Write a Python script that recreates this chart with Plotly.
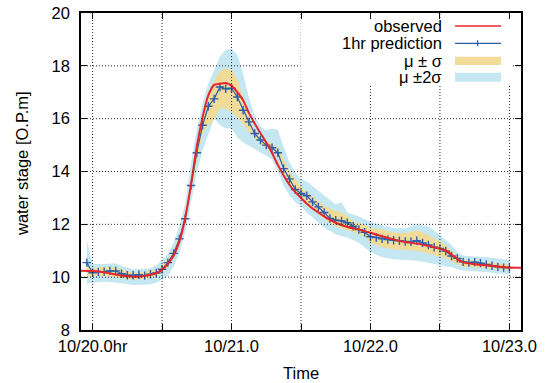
import plotly.graph_objects as go

# ---------------- data (hours from 10/20 0:00) ----------------
pred_hours = list(range(-1, 73))
pred_stage = [10.55, 10.17, 10.20, 10.21, 10.24, 10.24, 10.13, 10.07, 10.07, 10.09,
              10.06, 10.11, 10.16, 10.30, 10.55, 10.90, 11.45, 12.21, 13.47, 14.71,
              15.75, 16.47, 16.75, 17.20, 17.13, 17.15, 16.82, 16.32, 15.88, 15.44,
              15.19, 15.00, 14.90, 14.71, 14.11, 13.72, 13.32, 13.17, 13.08, 12.85,
              12.66, 12.45, 12.22, 12.16, 12.13, 12.06, 11.93, 11.80, 11.70, 11.53,
              11.50, 11.45, 11.42, 11.40, 11.38, 11.35, 11.34, 11.38, 11.30, 11.22,
              11.13, 11.09, 10.99, 10.80, 10.71, 10.58, 10.55, 10.57, 10.53, 10.48,
              10.43, 10.39, 10.36, 10.36]

obs_hours = [-2, 0, 2, 4, 6, 8, 10, 11, 12, 13, 14, 15, 16, 17, 18, 19, 20, 21, 22, 23,
             24, 25, 26, 27, 28, 29, 30, 31, 32, 33, 34, 35, 36, 37, 38, 39, 40, 42, 44,
             46, 48, 50, 52, 54, 56, 58, 60, 61, 62, 63, 64, 66, 68, 70, 72, 74]
obs_stage = [10.24, 10.23, 10.19, 10.10, 10.03, 10.02, 10.09, 10.15, 10.27, 10.50,
             10.82, 11.35, 12.25, 13.50, 14.95, 16.05, 16.89, 17.28, 17.32, 17.35,
             17.25, 17.00, 16.70, 16.22, 15.82, 15.45, 15.10, 14.70, 14.25, 13.85,
             13.50, 13.22, 13.00, 12.78, 12.60, 12.45, 12.30, 12.06, 11.90, 11.80,
             11.68, 11.55, 11.43, 11.33, 11.27, 11.18, 11.08, 11.00, 10.86, 10.68,
             10.56, 10.49, 10.45, 10.40, 10.37, 10.36]

s1_hours = [-1, 0, 2, 4, 5, 7, 9, 11, 12, 13, 14, 15, 16, 17, 18, 19, 20, 21, 22, 23,
            24, 25, 26, 27, 28, 29, 30, 31, 32, 33, 34, 35, 36, 37, 38, 40, 42, 43, 45,
            47, 48, 50, 52, 54, 56, 58, 60, 61, 62, 63, 64, 66, 68, 70, 72]
s1_upper = [10.45, 10.33, 10.39, 10.36, 10.30, 10.17, 10.20, 10.30, 10.45, 10.68,
            11.05, 11.60, 12.40, 13.65, 14.95, 16.10, 16.95, 17.45, 17.80, 17.90,
            17.85, 17.50, 16.80, 16.10, 15.55, 15.30, 15.12, 15.07, 14.90, 14.45,
            14.00, 13.70, 13.42, 13.20, 13.06, 12.70, 12.50, 12.47, 12.12, 11.97,
            11.85, 11.80, 11.68, 11.66, 11.78, 11.60, 11.34, 11.21, 11.00, 10.85,
            10.66, 10.61, 10.56, 10.52, 10.48]
s1_lower = [10.00, 10.05, 10.04, 10.00, 9.96, 9.91, 9.93, 10.05, 10.15, 10.38,
            10.72, 11.25, 12.02, 13.20, 14.40, 15.40, 15.75, 15.95, 16.40, 16.38,
            16.25, 16.05, 15.80, 15.50, 15.27, 15.05, 14.88, 14.81, 14.55, 14.00,
            13.60, 13.28, 13.00, 12.75, 12.56, 12.20, 11.92, 11.85, 11.72, 11.52,
            11.30, 11.13, 11.06, 11.03, 11.00, 10.90, 10.78, 10.73, 10.63, 10.50,
            10.40, 10.35, 10.33, 10.30, 10.27]

s2_hours = [-1, 0, 2, 4, 5, 7, 10, 11, 12, 13, 14, 15, 16, 17, 18, 19, 20, 21, 22, 23,
            24, 25, 26, 27, 28, 29, 30, 31, 32, 33, 34, 35, 36, 37, 38, 40, 42, 43, 44,
            46, 48, 50, 52, 54, 56, 58, 60, 61, 62, 63, 64, 66, 68, 70, 72]
s2_upper = [11.40, 10.50, 10.50, 10.53, 10.42, 10.30, 10.33, 10.45, 10.65, 10.88,
            11.30, 11.95, 12.80, 14.30, 15.60, 16.60, 17.33, 17.85, 18.35, 18.62,
            18.65, 18.42, 17.70, 16.80, 16.10, 15.70, 15.56, 15.63, 15.58, 14.93,
            14.35, 13.95, 13.72, 13.62, 13.45, 13.08, 12.75, 12.85, 12.45, 12.30,
            12.10, 11.97, 11.86, 11.84, 12.00, 11.92, 11.60, 11.40, 11.22, 10.95,
            10.82, 10.78, 10.76, 10.71, 10.65]
s2_lower = [9.75, 9.80, 9.83, 9.80, 9.77, 9.70, 9.72, 9.80, 9.90, 10.05,
            10.40, 10.90, 11.70, 12.80, 13.95, 14.80, 15.40, 16.00, 15.75, 15.63,
            15.65, 15.30, 15.10, 14.95, 14.85, 14.72, 14.60, 14.45, 14.00, 13.45,
            13.10, 12.85, 12.68, 12.45, 12.25, 11.88, 11.62, 11.55, 11.50, 11.30,
            10.95, 10.75, 10.68, 10.65, 10.62, 10.55, 10.46, 10.40, 10.38, 10.30,
            10.25, 10.22, 10.20, 10.14, 10.12]

x_tick_vals = [0, 12, 24, 36, 48, 60, 72]
x_tick_text = ["10/20.0hr", "", "10/21.0", "", "10/22.0", "", "10/23.0"]
y_tick_vals = [8, 10, 12, 14, 16, 18, 20]

legend_labels = ["observed", "1hr prediction", "\u03bc \u00b1 \u03c3", "\u03bc \u00b12\u03c3"]

# ---------------- styles ----------------
RED = "#e8252b"
BLUE = "#2c5ea8"
YELLOW = "#f0db98"
CYAN = "#c4e7f2"
FONT = "Liberation Sans, Arial, Helvetica, sans-serif"
FS = 16.5

FIG_W, FIG_H = 551, 383
PL, PR, PT, PB = 81.0, 521.0, 13.0, 330.0          # plot area in pixels
W, H = PR - PL, PB - PT

def px(xw):
    return (xw - PL) / W

def py(yw):
    return (PB - yw) / H

fig = go.Figure()

fig.add_trace(go.Scatter(
    x=s2_hours + s2_hours[::-1], y=s2_upper + s2_lower[::-1],
    fill="toself", fillcolor=CYAN, line=dict(width=0), mode="lines",
    hoverinfo="skip", showlegend=False))
fig.add_trace(go.Scatter(
    x=s1_hours + s1_hours[::-1], y=s1_upper + s1_lower[::-1],
    fill="toself", fillcolor=YELLOW, line=dict(width=0), mode="lines",
    hoverinfo="skip", showlegend=False))
fig.add_trace(go.Scatter(
    x=pred_hours, y=pred_stage, mode="lines+markers",
    line=dict(color=BLUE, width=1.2),
    marker=dict(symbol="cross-thin", size=6, line=dict(color=BLUE, width=1.4)),
    showlegend=False))
fig.add_trace(go.Scatter(
    x=obs_hours, y=obs_stage, mode="lines",
    line=dict(color=RED, width=2, shape="spline", smoothing=0.6),
    showlegend=False))

shapes = []
GRID = dict(color="#2a2a2a", width=1, dash="1px,2px")
for xv in x_tick_vals:
    shapes.append(dict(type="line", xref="x", yref="paper", x0=xv, x1=xv, y0=0, y1=1,
                       line=GRID, layer="above"))
for yv in y_tick_vals[1:-1]:
    shapes.append(dict(type="line", xref="paper", yref="y", x0=0, x1=1, y0=yv, y1=yv,
                       line=GRID, layer="above"))

# legend box (opaque, no border) and samples
shapes.append(dict(type="rect", xref="paper", yref="paper", x0=px(300.5), x1=px(511),
                   y0=py(85), y1=py(19), fillcolor="white", line=dict(width=0), layer="above"))
row_y = [26, 43.3, 61, 77.3]
sx0, sx1 = px(455), px(501)
shapes.append(dict(type="line", xref="paper", yref="paper", x0=sx0, x1=sx1,
                   y0=py(row_y[0]), y1=py(row_y[0]), line=dict(color=RED, width=1.5), layer="above"))
shapes.append(dict(type="line", xref="paper", yref="paper", x0=sx0, x1=sx1,
                   y0=py(row_y[1]), y1=py(row_y[1]), line=dict(color=BLUE, width=1.2), layer="above"))
shapes.append(dict(type="line", xref="paper", yref="paper", x0=px(477.7), x1=px(477.7),
                   y0=py(row_y[1] + 3), y1=py(row_y[1] - 3), line=dict(color=BLUE, width=1.2), layer="above"))
shapes.append(dict(type="rect", xref="paper", yref="paper", x0=sx0, x1=sx1,
                   y0=py(65), y1=py(56.7), fillcolor=YELLOW, line=dict(width=0), layer="above"))
shapes.append(dict(type="rect", xref="paper", yref="paper", x0=sx0, x1=sx1,
                   y0=py(81.7), y1=py(72.7), fillcolor=CYAN, line=dict(width=0), layer="above"))

annotations = []
for lab, ry in zip(legend_labels, row_y):
    annotations.append(dict(text=lab, xref="paper", yref="paper", x=px(444), y=py(ry),
                            xanchor="right", yanchor="middle", showarrow=False,
                            font=dict(family=FONT, size=FS, color="black")))
annotations.append(dict(text="Time", xref="paper", yref="paper", x=px(301), y=py(373),
                        xanchor="center", yanchor="middle", showarrow=False,
                        font=dict(family=FONT, size=FS, color="black")))
annotations.append(dict(text="water stage [O.P.m]", xref="paper", yref="paper",
                        x=px(22), y=py(164), xanchor="center", yanchor="middle",
                        textangle=-90, showarrow=False,
                        font=dict(family=FONT, size=FS, color="black")))

axis_common = dict(showline=True, linecolor="black", linewidth=1.5, mirror="allticks",
                   ticks="inside", ticklen=6, tickwidth=1, tickcolor="black",
                   showgrid=False, zeroline=False, layer="above traces", automargin=False,
                   ticklabeloverflow="allow",
                   tickfont=dict(family=FONT, size=FS, color="black"))

fig.update_layout(
    template="none",
    width=FIG_W, height=FIG_H,
    margin=dict(l=PL, r=FIG_W - PR, t=PT, b=FIG_H - PB, pad=0),
    paper_bgcolor="white", plot_bgcolor="white",
    showlegend=False,
    xaxis=dict(range=[-2, 74], tickmode="array", tickvals=x_tick_vals,
               ticktext=x_tick_text, **axis_common),
    yaxis=dict(range=[8, 20], tickmode="array", tickvals=y_tick_vals,
               ticklabelstandoff=6, **axis_common),
    shapes=shapes, annotations=annotations,
)

# remove the default 8px page margin so the 551x383 figure fills the window exactly
fig.write_html("out.html",
               config={"displayModeBar": False},
               post_script="document.body.style.margin='0px';"
                           "document.body.style.overflow='hidden';")
